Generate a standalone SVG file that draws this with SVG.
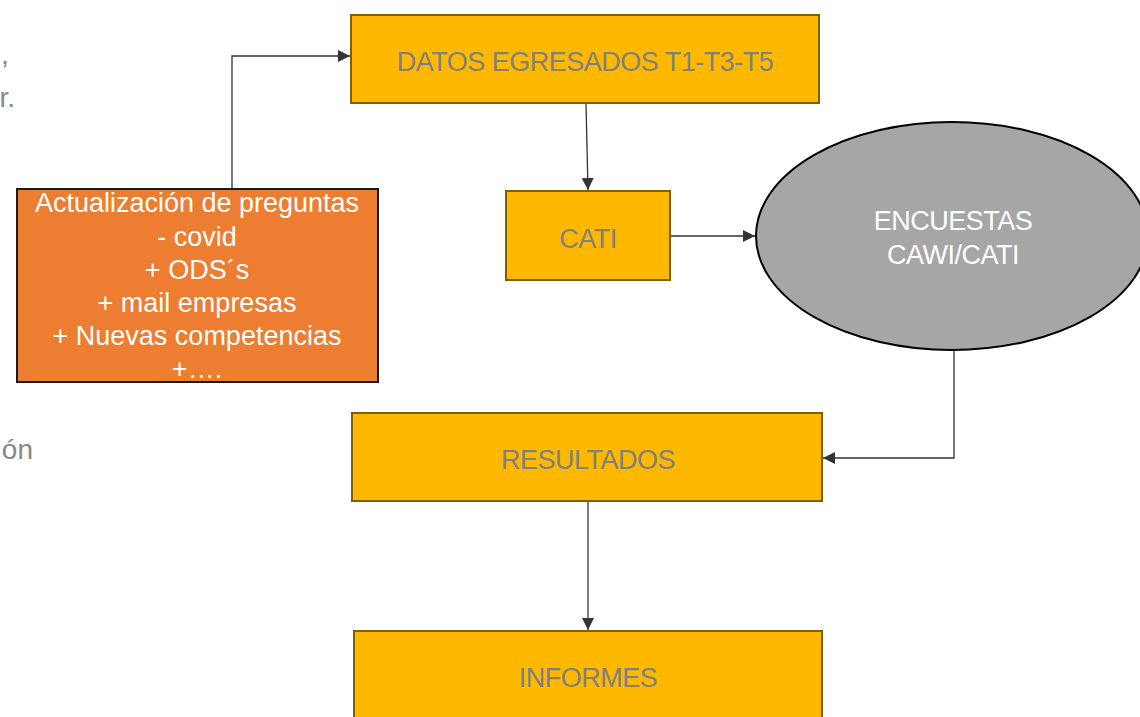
<svg xmlns="http://www.w3.org/2000/svg" width="1140" height="717" viewBox="0 0 1140 717">
<style>
.box{fill:#FFB800;stroke:#7F6000;stroke-width:2}
.lbl{font-family:"Liberation Sans",Arial,sans-serif;font-size:27px;fill:#808080;text-anchor:middle;letter-spacing:-0.5px}
.wt{font-family:"Liberation Sans",Arial,sans-serif;font-size:27px;fill:#ffffff;text-anchor:middle}
.wt2{font-family:"Liberation Sans",Arial,sans-serif;font-size:27px;fill:#ffffff;text-anchor:middle;letter-spacing:-0.5px}
.edge{fill:none;stroke:#333333;stroke-width:1.3}
.frag{font-family:"Liberation Sans",Arial,sans-serif;font-size:28px;fill:#888888}
</style>
<defs>
<marker id="arr" markerWidth="13" markerHeight="13" refX="12" refY="6" orient="auto" markerUnits="userSpaceOnUse">
<path d="M0,0 L12,6 L0,12 z" fill="#333333"/>
</marker>
</defs>
<rect width="1140" height="717" fill="#ffffff"/>
<text class="frag" x="1" y="64">,</text>
<text class="frag" x="15" y="107" text-anchor="end">r.</text>
<text class="frag" x="33" y="459" text-anchor="end">ón</text>
<g id="connectors">
<path class="edge" d="M232,188 V56 H350" marker-end="url(#arr)"/>
<path class="edge" d="M586,104 L588,190" marker-end="url(#arr)"/>
<path class="edge" d="M671,236 H755" marker-end="url(#arr)"/>
<path class="edge" d="M954,351 V458 H823" marker-end="url(#arr)"/>
<path class="edge" d="M588,502 V630" marker-end="url(#arr)"/>
</g>
<g id="datos">
<rect class="box" x="351" y="15" width="468" height="88"/>
<text class="lbl" x="585" y="71">DATOS EGRESADOS T1-T3-T5</text>
</g>
<g id="cati">
<rect class="box" x="506" y="191" width="164" height="89"/>
<text class="lbl" x="588" y="248">CATI</text>
</g>
<g id="encuestas">
<ellipse cx="952" cy="236" rx="196" ry="114" fill="#A6A6A6" stroke="#000000" stroke-width="2"/>
<text class="wt2" x="953" y="230">ENCUESTAS</text>
<text class="wt2" x="953" y="264">CAWI/CATI</text>
</g>
<g id="actualizacion">
<rect x="17" y="189" width="361" height="193" fill="#ED7D31" stroke="#1a1a1a" stroke-width="2"/>
<text class="wt" x="197" y="212">Actualización de preguntas</text>
<text class="wt" x="197" y="246">- covid</text>
<text class="wt" x="197" y="279">+ ODS´s</text>
<text class="wt" x="197" y="312">+ mail empresas</text>
<text class="wt" x="197" y="345">+ Nuevas competencias</text>
<text class="wt" x="197" y="378">+….</text>
</g>
<g id="resultados">
<rect class="box" x="352" y="413" width="470" height="88"/>
<text class="lbl" x="588" y="469">RESULTADOS</text>
</g>
<g id="informes">
<rect class="box" x="354" y="631" width="468" height="90"/>
<text class="lbl" x="588" y="687">INFORMES</text>
</g>
</svg>
